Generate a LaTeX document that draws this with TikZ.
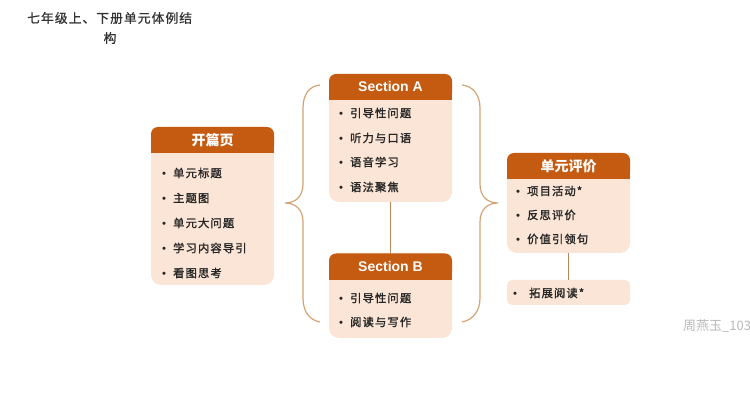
\documentclass[tikz,border=0pt]{standalone}
\usepackage{fontspec}
\setmainfont{Liberation Sans}
\newfontfamily\cjk{Noto Sans CJK SC}
\newfontfamily\cjkitem[LetterSpace=10,FakeBold=1.6]{Noto Sans CJK SC}
\newfontfamily\cjktitle[LetterSpace=8,FakeBold=0.8]{Noto Sans CJK SC}
\newfontfamily\bulletfont{Liberation Sans}
\definecolor{hdr}{HTML}{C55A11}
\definecolor{bodyc}{HTML}{FBE5D6}
\definecolor{brc}{HTML}{D4A373}
\definecolor{lnc}{HTML}{B8875A}
\newcommand{\itm}[1]{{\bulletfont\textbullet}\hspace{7pt}#1}
\begin{document}
\begin{tikzpicture}[x=1pt,y=-1pt,
  hdrbox/.style={fill=hdr, rounded corners=7pt, minimum width=123pt, minimum height=26pt,
    inner sep=0pt, text=white, font=\bfseries\fontsize{14}{14}\selectfont},
  bodybox/.style={fill=bodyc, rounded corners=10pt, minimum width=123pt, inner sep=0pt},
  item/.style={anchor=west, inner sep=0pt, text=black!85, font=\cjkitem\fontsize{11.3}{12}\selectfont},
  conn/.style={draw=lnc, line width=1.2pt},
  bracestyle/.style={draw=brc, line width=1.2pt}]
\useasboundingbox (0,0) rectangle (750,419);

% title
\node[anchor=west, inner sep=0pt, text=black!80, font=\cjktitle\fontsize{12.8}{13}\selectfont] (title1) at (27,18) {七年级上、下册单元体例结};
\node[inner sep=0pt, text=black!80, font=\cjktitle\fontsize{12.8}{13}\selectfont] (title2) at (110,38) {构};

% 开篇页
\node[bodybox, minimum height=158pt] (kb) at (212.5,206) {};
\node[hdrbox] (kh) at (212.5,140) {};
\fill[hdr] (kh.west) rectangle (kh.south east);
\node[hdrbox, fill=none] (kht) at (kh.center) {\cjk\bfseries 开篇页};
\node[item] (k1) at (162,173) {\itm{单元标题}};
\node[item] (k2) at (162,198) {\itm{主题图}};
\node[item] (k3) at (162,223) {\itm{单元大问题}};
\node[item] (k4) at (162,248) {\itm{学习内容导引}};
\node[item] (k5) at (162,273) {\itm{看图思考}};

% Section A
\node[bodybox, minimum height=128pt] (ab) at (390.5,138) {};
\node[hdrbox] (ah) at (390.5,87) {};
\fill[hdr] (ah.west) rectangle (ah.south east);
\node[hdrbox, fill=none] (aht) at (ah.center) {Section A};
\node[item] (a1) at (339,113) {\itm{引导性问题}};
\node[item] (a2) at (339,138) {\itm{听力与口语}};
\node[item] (a3) at (339,162) {\itm{语音学习}};
\node[item] (a4) at (339,187) {\itm{语法聚焦}};

% Section B
\node[bodybox, minimum height=85pt] (bb) at (390.5,295.5) {};
\node[hdrbox] (bh) at (390.5,266.5) {};
\fill[hdr] (bh.west) rectangle (bh.south east);
\node[hdrbox, fill=none] (bht) at (bh.center) {Section B};
\node[item] (b1) at (339,298) {\itm{引导性问题}};
\node[item] (b2) at (339,322) {\itm{阅读与写作}};

% 单元评价
\node[bodybox, minimum height=100pt] (db) at (568.5,203) {};
\node[hdrbox] (dh) at (568.5,166) {};
\fill[hdr] (dh.west) rectangle (dh.south east);
\node[hdrbox, fill=none] (dht) at (dh.center) {\cjk\bfseries 单元评价};
\node[item] (d1) at (516,191) {\itm{项目活动*}};
\node[item] (d2) at (516,215) {\itm{反思评价}};
\node[item] (d3) at (516,239) {\itm{价值引领句}};

% 拓展阅读
\node[bodybox, minimum height=25pt, rounded corners=5pt] (tz) at (568.5,292.5) {};
\node[item] (t1) at (513,293) {{\bulletfont\textbullet}\hspace{12pt}拓展阅读*};

% connectors
\draw[conn] (ab.south) -- (bh.north);
\draw[conn] (db.south) -- (tz.north);

% braces
\draw[bracestyle] (320,85) .. controls (309,86) and (303,95) .. (303,108)
  -- (303,184) .. controls (303,197) and (295,203) .. (285,203)
  .. controls (295,203) and (303,209) .. (303,222)
  -- (303,298) .. controls (303,311) and (309,320) .. (320,322);
\draw[bracestyle] (462,85) .. controls (473,86) and (480,95) .. (480,108)
  -- (480,184) .. controls (480,197) and (488,203) .. (498,203)
  .. controls (488,203) and (480,209) .. (480,222)
  -- (480,298) .. controls (480,311) and (473,320) .. (462,322);

% watermark
\node[anchor=west, inner sep=0pt, text=black!28, font=\cjk\fontsize{13}{13}\selectfont] (wm) at (683,326) {周燕玉\_103};
\end{tikzpicture}
\end{document}
